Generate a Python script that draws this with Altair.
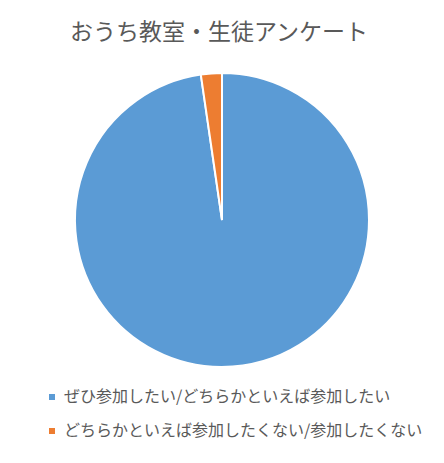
import altair as alt
import pandas as pd

categories = ["ぜひ参加したい/どちらかといえば参加したい", "どちらかといえば参加したくない/参加したくない"]
values = [97.7, 2.3]
colors = ["#5B9BD5", "#ED7D31"]
title_text = "おうち教室・生徒アンケート"

df = pd.DataFrame({"cat": categories, "val": values, "idx": list(range(len(categories)))})

FONT = "Noto Sans CJK JP"

pie = alt.Chart(df).mark_arc(stroke="white", strokeWidth=2, radius=147).encode(
    theta=alt.Theta("val:Q", stack=True),
    order=alt.Order("idx:Q"),
    color=alt.Color(
        "cat:N",
        scale=alt.Scale(domain=categories, range=colors),
        sort=categories,
        legend=alt.Legend(
            title=None,
            orient="none",
            legendX=36,
            legendY=331,
            direction="vertical",
            symbolType="square",
            symbolSize=36,
            symbolStrokeWidth=0,
            labelFont=FONT,
            labelFontSize=16,
            labelColor="#595959",
            labelLimit=500,
            rowPadding=18,
            labelOffset=4,
        ),
    ),
    x=alt.value(214),
    y=alt.value(162),
)

chart = pie.properties(
    width=428,
    height=395,
    padding={"top": 50, "left": 0, "right": 0, "bottom": 0},
    autosize=alt.AutoSizeParams(type="none"),
    title=alt.TitleParams(
        title_text,
        font=FONT,
        fontSize=23,
        fontWeight="normal",
        color="#595959",
        anchor="middle",
        offset=13,
        dx=-3,
    ),
).configure_view(stroke=None)

chart.save("out.html", embed_options={"renderer": "svg", "actions": False})
